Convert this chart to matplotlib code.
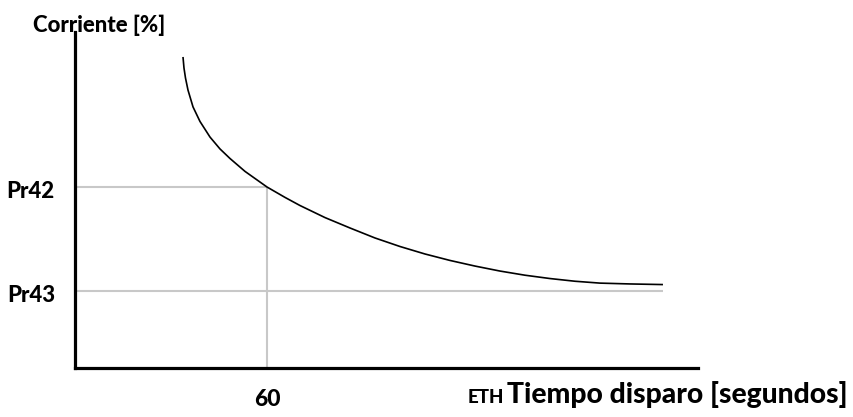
import matplotlib
matplotlib.use("Agg")
import matplotlib.pyplot as plt
from matplotlib.transforms import blended_transform_factory, offset_copy

# Thermal trip curve: current [%] vs trip time [s]
trip_time = [33.75, 34.06, 34.53, 35.31, 36.88, 39.06, 42.19, 45.31, 48.44,
             53.13, 60.0, 65.63, 70.31, 78.13, 85.94, 93.75, 101.56, 109.38,
             117.19, 125.0, 132.81, 140.63, 148.44, 156.25, 164.06, 173.44,
             183.75]
current = [212.5, 207.2, 202.4, 196.6, 188.5, 181.5, 174.0, 168.3, 163.7,
           157.5, 150.0, 145.0, 141.1, 135.3, 130.3, 125.5, 121.4, 117.8,
           114.7, 112.0, 109.6, 107.6, 106.0, 104.7, 103.8, 103.4, 103.1]

pr42 = 150.0          # current level labelled Pr42
pr43 = 100.0          # current level labelled Pr43
t_marker = 60         # trip time at Pr42
y_labels = ["Pr42", "Pr43"]
x_label_tick = "60"

plt.rcParams["font.family"] = ["Lato", "DejaVu Sans"]

W, H = 854, 417
fig = plt.figure(figsize=(W / 100, H / 100), dpi=100)
ax = fig.add_axes([75 / W, (H - 368) / H, (698 - 75) / W, (368 - 32) / H])

ax.set_xlim(0, 194.7)
ax.set_ylim(63.0, 224.5)

for side in ("top", "right"):
    ax.spines[side].set_visible(False)
for side in ("left", "bottom"):
    ax.spines[side].set_linewidth(2.3)
    ax.spines[side].set_color("black")
ax.set_xticks([])
ax.set_yticks([])

grey = "#c8c8c8"
ax.hlines(pr42, 0, t_marker, color=grey, lw=1.5, zorder=1)
ax.vlines(t_marker, ax.get_ylim()[0], pr42, color=grey, lw=1.5, zorder=1)
ax.hlines(pr43, 0, trip_time[-1], color=grey, lw=1.5, zorder=1)

ax.plot(trip_time, current, color="black", lw=1.2, zorder=2,
        solid_joinstyle="round", solid_capstyle="butt")

# y level labels
ytrans = blended_transform_factory(ax.transAxes, ax.transData)
for lab, val in zip(y_labels, [pr42, pr43]):
    tr = offset_copy(ytrans, fig=fig, x=-20, y=-4.5, units="dots")
    ax.text(0, val, lab, transform=tr, ha="right", va="center",
            fontsize=16, fontweight="black")

# x marker label
xtrans = blended_transform_factory(ax.transData, ax.transAxes)
tr = offset_copy(xtrans, fig=fig, x=0, y=-31, units="dots")
ax.text(t_marker, 0, x_label_tick, transform=tr, ha="center", va="center",
        fontsize=16.5, fontweight="black")

# axis titles
fig.text(33 / W, (H - 32) / H, "Corriente [%]", ha="left", va="baseline",
         fontsize=16, fontweight="black")
fig.text(848 / W, (H - 403) / H, "Tiempo disparo [segundos]", ha="right",
         va="baseline", fontsize=20.3, fontweight="black")
fig.text(504 / W, (H - 403) / H, "ETH", ha="right", va="baseline",
         fontsize=13.5, fontweight="black")

fig.savefig("out.png", dpi=100, facecolor="white")
